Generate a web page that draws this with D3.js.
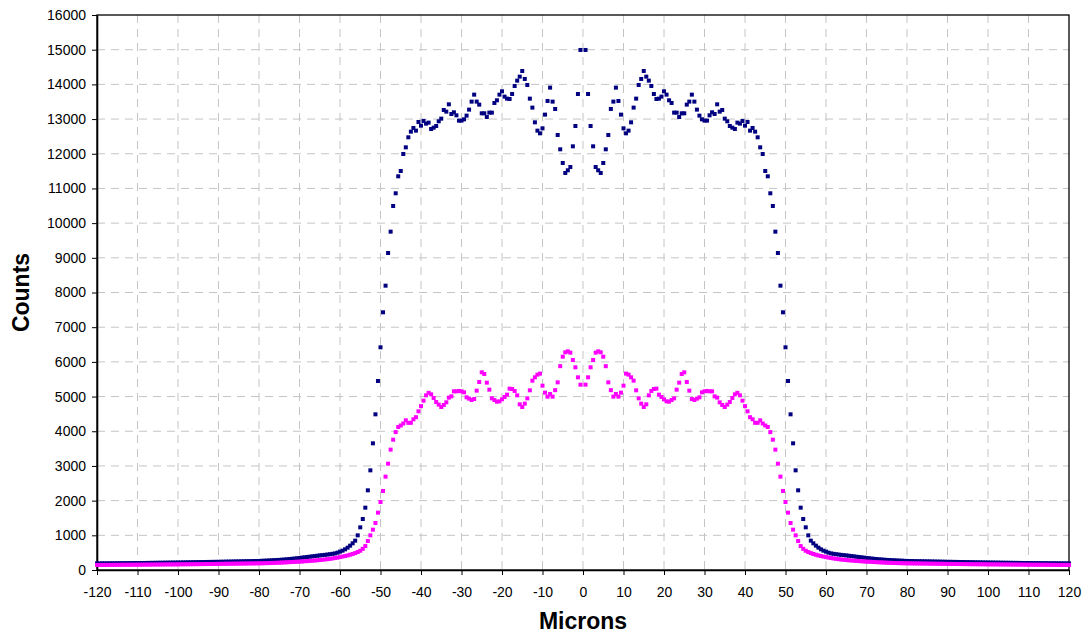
<!DOCTYPE html>
<html>
<head>
<meta charset="utf-8">
<script src="https://cdn.jsdelivr.net/npm/d3@7"></script>
<style>
  body { margin: 0; background: #fff; }
  svg text { font-family: "Liberation Sans", Arial, sans-serif; fill: #000; }
</style>
</head>
<body>
<div id="chart"></div>
<script>
const WIDTH = 1085;
const HEIGHT = 634;

// sample grid (microns): first sample and spacing
const X_START = -120;
const X_STEP = 0.625;

const xTickValues = [-120, -110, -100, -90, -80, -70, -60, -50, -40, -30, -20, -10, 0, 10, 20, 30, 40, 50, 60, 70, 80, 90, 100, 110, 120];
const yTickValues = [0, 1000, 2000, 3000, 4000, 5000, 6000, 7000, 8000, 9000, 10000, 11000, 12000, 13000, 14000, 15000, 16000];

// navy series, -120 .. -0.625
const navyLeft = [
  190,190,191,192,192,193,194,194,195,196,196,197,198,198,199,200,
  200,201,202,203,204,205,206,207,208,209,210,211,212,213,214,215,
  216,217,218,220,221,222,224,225,226,228,229,230,232,233,234,235,
  236,238,239,241,242,244,245,247,248,250,251,253,254,256,258,259,
  261,264,268,271,275,279,283,287,
  291,296,302,308,315,322,330,338,
  347,356,365,374,383,392,401,411,
  420,428,436,445,455,466,478,500,
  529,557,596,644,702,
  769,846,999,1230,1470,1797,2297,2873,3652,4488,5449,6420,7429,8197,9139,9754,10494,10860,
  11350,11503,11993,12185,12474,12637,12743,12666,12916,12810,12945,12868,12897,12714,12752,12800,
  12935,13012,13262,13214,13425,13146,13195,13108,12955,12955,12993,13099,13272,13503,13704,13503,
  13416,13166,13166,13060,13185,13185,13464,13541,13704,13800,13647,13589,13579,13723,13954,14108,
  14223,14386,14156,13983,13589,13330,12906,12666,12589,12733,13128,13522,13906,13503,13291,12541,
  12128,
  11734,11446,11523,11618,12214,12800,13723,14992
];

// navy series, 0.625 .. 120
const navyRight = [
  14992,13723,12800,12214,11618,11523,11446,11734,
  12128,12541,13291,13503,13906,13522,13128,12733,12589,12666,12906,13330,13589,13983,14156,14386,
  14223,14108,13954,13723,13579,13589,13647,13800,13704,13541,13464,13185,13185,13060,13166,13166,
  13416,13503,13704,13503,13272,13099,12993,12955,12955,13108,13195,13146,13425,13214,13262,13012,
  12935,12800,12752,12714,12897,12868,12945,12810,12916,12666,12743,12637,12474,12185,11993,11503,
  11350,
  10860,10494,9754,9139,8197,7429,6420,5449,4488,3652,2873,2297,1797,1470,1230,999,846,769,
  702,644,596,557,529,
  500,478,466,455,445,436,428,420,
  411,401,392,383,374,365,356,347,
  338,330,322,315,308,302,296,291,
  287,283,279,275,271,268,264,261,
  259,258,256,254,253,251,250,248,247,245,244,242,241,239,238,236,
  235,234,233,232,230,229,228,226,225,224,222,221,220,218,217,216,
  215,214,213,212,211,210,209,208,207,206,205,204,203,202,201,200,
  200,199,198,198,197,196,196,195,194,194,193,192,192,191,190,190
];

// magenta series, -120 .. -0.625
const magentaLeft = [
  145,145,146,146,147,147,148,148,149,149,150,150,151,151,152,152,
  153,153,154,155,155,156,157,157,158,159,159,160,161,161,162,162,
  163,164,165,165,166,167,168,168,169,170,171,172,172,173,174,175,
  176,177,178,179,180,181,182,183,184,185,186,187,188,189,190,191,
  192,194,196,198,200,202,205,208,
  211,214,218,222,226,230,234,238,
  242,247,252,257,262,268,274,280,
  287,295,303,312,322,333,345,358,
  372,387,403,420,440,462,488,518,555,610,690,
  836,999,1163,1355,1653,1960,2278,2691,3065,3470,3757,3975,
  4123,4166,4224,4315,4243,4243,4344,4406,4575,4724,4882,5036,5108,5064,4959,4843,
  4767,4699,4757,4834,4969,5006,5151,5151,5161,5151,5122,4978,4940,4901,4930,5170,
  5420,5699,5651,5401,5199,4949,4901,4853,4863,4920,4988,5055,5228,5218,5161,5035,
  4776,4699,4796,4949,5180,5459,5555,5632,5661,5314,5113,4998,5074,4998,5185,5410,
  5876,
  6150,6275,6304,6266,6054,5843,5555,5343
];

// magenta series, 0.625 .. 120
const magentaRight = [
  5343,5555,5843,6054,6266,6304,6275,6150,
  5876,5410,5185,4998,5074,4998,5113,5314,5661,5632,5555,5459,5180,4949,4796,4699,
  4776,5035,5161,5218,5228,5055,4988,4920,4863,4853,4901,4949,5199,5401,5651,5699,
  5420,5170,4930,4901,4940,4978,5122,5151,5161,5151,5151,5006,4969,4834,4757,4699,
  4767,4843,4959,5064,5108,5036,4882,4724,4575,4406,4344,4243,4243,4315,4224,4166,
  4123,
  3975,3757,3470,3065,2691,2278,1960,1653,1355,1163,999,836,
  690,610,555,518,488,462,440,420,403,387,372,
  358,345,333,322,312,303,295,287,
  280,274,268,262,257,252,247,242,
  238,234,230,226,222,218,214,211,
  208,205,202,200,198,196,194,192,
  191,190,189,188,187,186,185,184,183,182,181,180,179,178,177,176,
  175,174,173,172,172,171,170,169,168,168,167,166,165,165,164,163,
  162,162,161,161,160,159,159,158,157,157,156,155,155,154,153,153,
  152,152,151,151,150,150,149,149,148,148,147,147,146,146,145,145
];

// the sample at 0 is missing in both series
const navyValues = [...navyLeft, null, ...navyRight];
const magentaValues = [...magentaLeft, null, ...magentaRight];

const margin = { top: 15, right: 16, bottom: 64, left: 97 };
const width = WIDTH - margin.left - margin.right;
const height = HEIGHT - margin.top - margin.bottom;

const svg = d3.select("#chart").append("svg")
    .attr("width", WIDTH)
    .attr("height", HEIGHT);

const g = svg.append("g")
    .attr("transform", `translate(${margin.left},${margin.top})`);

const x = d3.scaleLinear().domain([-120, 120]).range([0, width]);
const y = d3.scaleLinear().domain([0, 16000]).range([height, 0]);

// Grid
g.append("g")
    .selectAll("line")
    .data(xTickValues.slice(1, -1))
    .enter().append("line")
    .attr("x1", d => x(d)).attr("x2", d => x(d))
    .attr("y1", 0).attr("y2", height)
    .attr("stroke", "#c4c4c4")
    .attr("stroke-dasharray", "8,6");

g.append("g")
    .selectAll("line")
    .data(yTickValues.slice(1, -1))
    .enter().append("line")
    .attr("x1", 0).attr("x2", width)
    .attr("y1", d => y(d)).attr("y2", d => y(d))
    .attr("stroke", "#c4c4c4")
    .attr("stroke-dasharray", "8,6");

// Plot border
g.append("rect")
    .attr("width", width)
    .attr("height", height)
    .attr("fill", "none")
    .attr("stroke", "#000")
    .attr("stroke-width", 1.3);

// Axes (plain hyphen for negatives, like the original)
const xAxis = g.append("g")
    .attr("transform", `translate(0,${height})`)
    .call(d3.axisBottom(x).tickValues(xTickValues).tickSize(5).tickSizeOuter(0).tickPadding(12)
        .tickFormat(d => String(d)));

const yAxis = g.append("g")
    .call(d3.axisLeft(y).tickValues(yTickValues).tickSize(5).tickSizeOuter(0).tickPadding(6)
        .tickFormat(d => String(d)));

[xAxis, yAxis].forEach(a => {
    a.select(".domain").attr("stroke", "#000").attr("stroke-width", 1.6);
    a.selectAll(".tick line").attr("stroke", "#000").attr("stroke-width", 1);
    a.selectAll(".tick text")
        .attr("fill", "#000")
        .style("font-size", "14px")
        .style("font-family", "'Liberation Sans', Arial, sans-serif");
});

// Points
const series = [
    { name: "navy", color: "#000080", values: navyValues },
    { name: "magenta", color: "#ff00ff", values: magentaValues }
];

const MARK = 4;

series.forEach(s => {
    const pts = s.values
        .map((v, i) => ({ m: X_START + i * X_STEP, v }))
        .filter(d => d.v !== null);

    g.append("g")
        .attr("class", "series-" + s.name)
        .selectAll("rect")
        .data(pts)
        .enter().append("rect")
        .attr("x", d => x(d.m) - MARK / 2)
        .attr("y", d => y(d.v) - MARK / 2)
        .attr("width", MARK)
        .attr("height", MARK)
        .attr("fill", s.color);
});

// Axis titles
svg.append("text")
    .attr("x", margin.left + width / 2)
    .attr("y", 629)
    .attr("text-anchor", "middle")
    .style("font-size", "23px")
    .style("font-weight", "bold")
    .text("Microns");

svg.append("text")
    .attr("transform", `translate(29,${margin.top + height / 2}) rotate(-90)`)
    .attr("text-anchor", "middle")
    .style("font-size", "23px")
    .style("font-weight", "bold")
    .text("Counts");
</script>
</body>
</html>
